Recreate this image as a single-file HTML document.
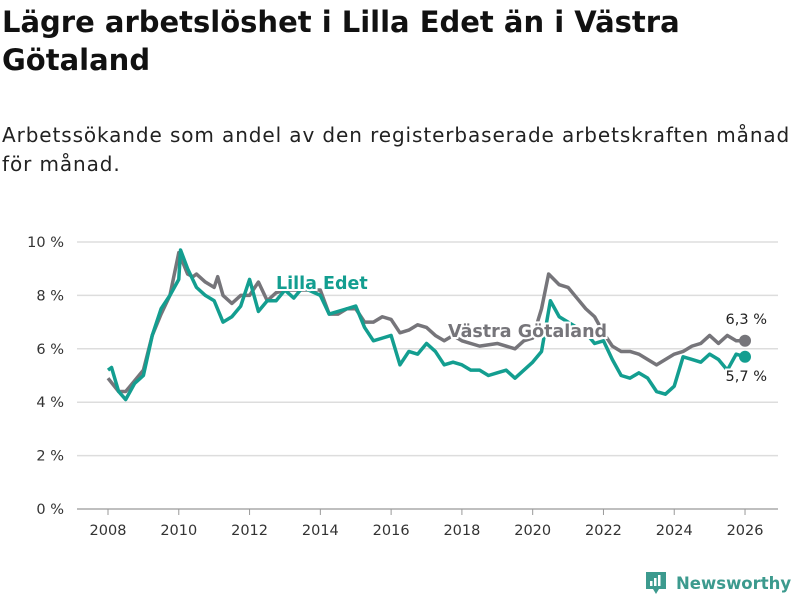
<!DOCTYPE html>
<html><head><meta charset="utf-8"><style>
body{margin:0;width:800px;height:600px;background:#fff;font-family:"DejaVu Sans","Liberation Sans",sans-serif;overflow:hidden;position:relative}
h1{position:absolute;left:2px;top:3px;margin:0;font-size:29px;line-height:38px;font-weight:bold;color:#111;letter-spacing:0px}
.sub{position:absolute;left:2px;top:121px;font-size:20px;line-height:29px;color:#222;letter-spacing:0.9px;white-space:nowrap}
svg{position:absolute;left:0;top:0}
</style></head><body>
<h1>Lägre arbetslöshet i Lilla Edet än i Västra<br>Götaland</h1>
<div class="sub">Arbetssökande som andel av den registerbaserade arbetskraften månad<br>för månad.</div>
<svg id="chart" width="800" height="600"></svg>
<div style="position:absolute;left:645px;top:571px;display:flex;align-items:center;color:#3c9a8e;font-size:16.5px;font-weight:bold;white-space:nowrap">
<svg width="22" height="24" style="position:static;margin-right:9px"><path d="M1 1h20v17h-7l-3 5-3-5H1z" fill="#3c9a8e"/><rect x="5" y="10" width="2.5" height="5" fill="#fff"/><rect x="9" y="7" width="2.5" height="8" fill="#fff"/><rect x="13" y="4" width="2.5" height="11" fill="#fff"/></svg>Newsworthy</div>
<script>
const yTicks=[0,2,4,6,8,10];
const xTicks=[2008,2010,2012,2014,2016,2018,2020,2022,2024,2026];
const vgDates=[2008.0,2008.3,2008.5,2008.75,2009.0,2009.25,2009.5,2009.75,2010.0,2010.25,2010.4,2010.5,2010.75,2011.0,2011.1,2011.25,2011.5,2011.75,2012.0,2012.25,2012.5,2012.75,2013.0,2013.5,2014.0,2014.25,2014.5,2014.75,2015.0,2015.25,2015.5,2015.75,2016.0,2016.25,2016.5,2016.75,2017.0,2017.25,2017.5,2017.75,2018.0,2018.5,2019.0,2019.5,2019.75,2020.0,2020.25,2020.45,2020.75,2021.0,2021.25,2021.5,2021.75,2022.0,2022.25,2022.5,2022.75,2023.0,2023.25,2023.5,2023.75,2024.0,2024.25,2024.5,2024.75,2025.0,2025.25,2025.5,2025.75,2026.0];
const vgValues=[4.9,4.4,4.4,4.8,5.2,6.5,7.3,8.0,9.6,8.8,8.7,8.8,8.5,8.3,8.7,8.0,7.7,8.0,8.0,8.5,7.8,8.1,8.2,8.2,8.2,7.3,7.3,7.5,7.5,7.0,7.0,7.2,7.1,6.6,6.7,6.9,6.8,6.5,6.3,6.5,6.3,6.1,6.2,6.0,6.3,6.4,7.5,8.8,8.4,8.3,7.9,7.5,7.2,6.6,6.1,5.9,5.9,5.8,5.6,5.4,5.6,5.8,5.9,6.1,6.2,6.5,6.2,6.5,6.3,6.3];
const leDates=[2008.0,2008.1,2008.3,2008.5,2008.75,2009.0,2009.25,2009.5,2009.75,2010.0,2010.05,2010.25,2010.5,2010.75,2011.0,2011.25,2011.5,2011.75,2012.0,2012.25,2012.5,2012.75,2013.0,2013.25,2013.5,2014.0,2014.25,2014.5,2014.75,2015.0,2015.25,2015.5,2015.75,2016.0,2016.25,2016.5,2016.75,2017.0,2017.25,2017.5,2017.75,2018.0,2018.25,2018.5,2018.75,2019.0,2019.25,2019.5,2019.75,2020.0,2020.25,2020.5,2020.75,2021.0,2021.25,2021.5,2021.75,2022.0,2022.25,2022.5,2022.75,2023.0,2023.25,2023.5,2023.75,2024.0,2024.25,2024.5,2024.75,2025.0,2025.25,2025.5,2025.75,2026.0];
const leValues=[5.2,5.3,4.4,4.1,4.7,5.0,6.5,7.5,8.0,8.6,9.7,9.0,8.3,8.0,7.8,7.0,7.2,7.6,8.6,7.4,7.8,7.8,8.2,7.9,8.3,8.0,7.3,7.4,7.5,7.6,6.8,6.3,6.4,6.5,5.4,5.9,5.8,6.2,5.9,5.4,5.5,5.4,5.2,5.2,5.0,5.1,5.2,4.9,5.2,5.5,5.9,7.8,7.2,7.0,6.8,6.6,6.2,6.3,5.6,5.0,4.9,5.1,4.9,4.4,4.3,4.6,5.7,5.6,5.5,5.8,5.6,5.2,5.8,5.7];
const NS="http://www.w3.org/2000/svg";
const svg=document.getElementById('chart');
const X=y=>108+(y-2008)*35.39;
const Y=v=>509-v*26.7;
function mk(t,a,txt){const e=document.createElementNS(NS,t);for(const k in a)e.setAttribute(k,a[k]);if(txt!==undefined)e.textContent=txt;svg.appendChild(e);return e;}
yTicks.forEach(v=>{
 const g=mk('line',{x1:77,x2:778,y1:Y(v),y2:Y(v),stroke:v===0?'#999':'#ddd','stroke-width':v===0?1.2:1.5});
 
 
 const t=mk('text',{x:64,y:Y(v)+5,'text-anchor':'end','font-size':14.5,fill:'#333'},v+' %');
 
 
});
xTicks.forEach(yr=>{
 const l=mk('line',{x1:X(yr),x2:X(yr),y1:509,y2:515,stroke:'#999'});
 
 
 const t=mk('text',{x:X(yr),y:535,'text-anchor':'middle','font-size':14.5,fill:'#333'},yr);
 
 
});
function line(d,v,c,name){
 const p=mk('polyline',{points:d.map((x,i)=>X(x)+','+Y(v[i])).join(' '),fill:'none',stroke:c,'stroke-width':3.5,'stroke-linejoin':'round'});
 
 
 const e=mk('circle',{cx:X(d[d.length-1]),cy:Y(v[v.length-1]),r:6,fill:c});
 
 
}
line(vgDates,vgValues,'#76757a','vastra-gotaland-line');
line(leDates,leValues,'#139e90','lilla-edet-line');
function lab(x,y,txt,c,name,w,anchor,size){
 const t=mk('text',{x:x,y:y,'font-size':size,'font-weight':w,fill:c,stroke:'#fff','stroke-width':4,'paint-order':'stroke','text-anchor':anchor||'start'},txt);
 
 
}
lab(276,289,'Lilla Edet','#139e90','lilla-edet-label','bold','start',17.5);
lab(448,337,'Västra Götaland','#76757a','vastra-gotaland-label','bold','start',17.5);
lab(767,324,'6,3 %','#222','vg-end-value','normal','end',14.5);
lab(767,381,'5,7 %','#222','le-end-value','normal','end',14.5);
</script>
</body></html>
